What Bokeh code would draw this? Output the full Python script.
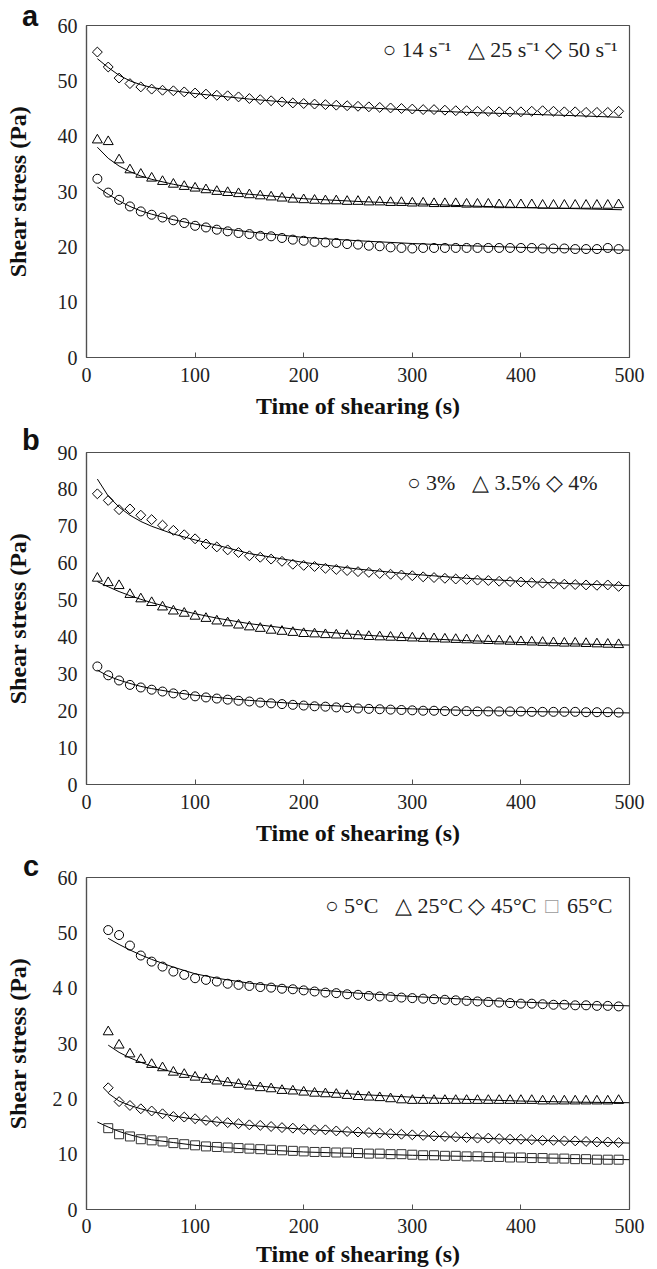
import numpy as np
from bokeh.plotting import figure
from bokeh.models import Range1d, Label, FixedTicker, Div
from bokeh.layouts import column, row
from bokeh.embed import file_html
from bokeh.resources import INLINE

# ---------------- data ----------------
time_ab = [10, 20, 30, 40, 50, 60, 70, 80, 90, 100, 110, 120, 130, 140, 150, 160, 170, 180, 190, 200,
           210, 220, 230, 240, 250, 260, 270, 280, 290, 300, 310, 320, 330, 340, 350, 360, 370, 380, 390, 400,
           410, 420, 430, 440, 450, 460, 470, 480, 490]
time_c = [20, 30, 40, 50, 60, 70, 80, 90, 100, 110, 120, 130, 140, 150, 160, 170, 180, 190, 200,
          210, 220, 230, 240, 250, 260, 270, 280, 290, 300, 310, 320, 330, 340, 350, 360, 370, 380, 390, 400,
          410, 420, 430, 440, 450, 460, 470, 480, 490]
fit_t_ab = [10, 20, 30, 40, 50, 60, 80, 100, 120, 150, 200, 250, 300, 350, 400, 450, 500]
fit_t_a2 = [10, 20, 30, 40, 50, 60, 80, 100, 120, 150, 200, 250, 300, 350, 400, 450, 493]
fit_t_c = [20, 30, 40, 50, 60, 80, 100, 120, 150, 200, 250, 300, 350, 400, 450, 500]
fit_t_c65 = [10, 20, 30, 40, 50, 60, 80, 100, 120, 150, 200, 250, 300, 350, 400, 450, 500]

# panel a: shear rates
a_14 = [32.3, 29.8, 28.5, 27.3, 26.4, 25.8, 25.3, 24.8, 24.3, 23.8, 23.5, 23.1, 22.8, 22.5, 22.3, 22.0, 21.9,
        21.6, 21.3, 21.1, 20.9, 20.8, 20.7, 20.5, 20.4, 20.2, 20.1, 19.9, 19.8, 19.7, 19.8, 19.8, 19.8, 19.8,
        19.8, 19.8, 19.8, 19.8, 19.8, 19.8, 19.8, 19.7, 19.7, 19.7, 19.6, 19.6, 19.6, 19.8, 19.6]
a_25 = [39.3, 39.0, 35.7, 33.9, 33.1, 32.4, 31.8, 31.3, 30.9, 30.6, 30.3, 30.0, 29.8, 29.6, 29.4, 29.2, 29.0,
        28.8, 28.6, 28.5, 28.4, 28.3, 28.3, 28.2, 28.2, 28.1, 28.1, 28.0, 28.0, 27.9, 27.9, 27.8, 27.8, 27.8,
        27.7, 27.7, 27.7, 27.6, 27.6, 27.6, 27.6, 27.5, 27.5, 27.5, 27.5, 27.5, 27.5, 27.5, 27.6]
a_50 = [55.2, 52.5, 50.5, 49.5, 48.9, 48.5, 48.3, 48.2, 48.0, 47.8, 47.6, 47.4, 47.3, 47.1, 46.8, 46.6, 46.4,
        46.2, 46.0, 45.9, 45.8, 45.7, 45.6, 45.5, 45.4, 45.3, 45.2, 45.1, 45.0, 44.9, 44.8, 44.8, 44.7, 44.6,
        44.6, 44.5, 44.5, 44.4, 44.4, 44.4, 44.5, 44.6, 44.5, 44.4, 44.4, 44.3, 44.3, 44.3, 44.5]
a_14_fit = [30.8, 29.5, 28.3, 27.3, 26.5, 25.9, 24.9, 24.1, 23.4, 22.7, 21.7, 21.1, 20.6, 20.2, 19.9, 19.6, 19.4]
a_25_fit = [38.0, 36.0, 34.6, 33.6, 32.8, 32.2, 31.3, 30.6, 30.1, 29.5, 28.7, 28.2, 27.8, 27.4, 27.1, 26.9, 26.7]
a_50_fit = [54.0, 52.4, 51.0, 50.0, 49.3, 48.8, 48.2, 47.7, 47.3, 46.7, 45.9, 45.2, 44.7, 44.3, 44.0, 43.7, 43.4]
a_legend = "\u25cb 14 s\u207b\u00b9\u00a0\u00a0 \u25b3 25 s\u207b\u00b9 \u25c7 50 s\u207b\u00b9"

# panel b: concentrations
b_3 = [32.0, 29.6, 28.2, 27.0, 26.3, 25.7, 25.2, 24.7, 24.3, 23.9, 23.6, 23.3, 23.0, 22.7, 22.5, 22.2, 22.0,
       21.8, 21.6, 21.4, 21.2, 21.1, 20.9, 20.8, 20.6, 20.5, 20.4, 20.3, 20.2, 20.1, 20.0, 20.0, 19.9, 19.9,
       19.9, 19.8, 19.8, 19.8, 19.8, 19.8, 19.7, 19.7, 19.7, 19.7, 19.7, 19.6, 19.6, 19.6, 19.5]
b_35 = [55.9, 54.7, 53.9, 51.5, 50.3, 49.3, 48.1, 47.0, 46.4, 45.6, 45.0, 44.3, 43.8, 43.2, 42.7, 42.3, 41.8,
        41.5, 41.2, 40.9, 40.8, 40.6, 40.5, 40.4, 40.3, 40.1, 40.0, 39.9, 39.8, 39.7, 39.6, 39.5, 39.4, 39.3,
        39.2, 39.1, 39.0, 38.9, 38.8, 38.7, 38.6, 38.5, 38.4, 38.3, 38.3, 38.2, 38.1, 38.0, 37.9]
b_4 = [78.8, 77.0, 74.5, 74.7, 73.0, 71.8, 70.3, 68.9, 67.7, 66.6, 65.2, 64.4, 63.6, 62.9, 62.0, 61.6, 61.1,
       60.5, 59.7, 59.4, 59.1, 58.6, 58.3, 58.0, 57.7, 57.5, 57.2, 57.0, 56.8, 56.6, 56.3, 56.1, 55.9, 55.7,
       55.6, 55.4, 55.3, 55.1, 55.0, 54.9, 54.7, 54.6, 54.4, 54.3, 54.2, 54.1, 54.0, 54.1, 53.7]
b_3_fit = [31.0, 29.4, 28.3, 27.4, 26.6, 26.0, 25.0, 24.2, 23.6, 22.8, 21.8, 21.0, 20.5, 20.1, 19.8, 19.6, 19.4]
b_35_fit = [55.0, 53.6, 52.3, 51.2, 50.2, 49.3, 47.7, 46.3, 45.1, 43.6, 41.8, 40.6, 39.7, 39.0, 38.5, 38.1, 37.8]
b_4_fit = [82.8, 78.2, 75.2, 73.0, 71.3, 70.0, 67.9, 66.3, 64.9, 62.6, 60.2, 58.4, 57.0, 55.9, 55.1, 54.4, 53.9]
b_legend = "\u25cb 3%\u00a0\u00a0 \u25b3 3.5% \u25c7 4%"

# panel c: temperatures
c_5 = [50.5, 49.6, 47.7, 45.9, 44.8, 43.9, 43.0, 42.4, 41.8, 41.5, 41.2, 40.8, 40.6, 40.4, 40.2, 40.1, 39.9,
       39.8, 39.6, 39.4, 39.2, 39.1, 38.9, 38.8, 38.6, 38.5, 38.4, 38.3, 38.2, 38.1, 38.0, 37.9, 37.8, 37.7,
       37.6, 37.5, 37.4, 37.3, 37.2, 37.2, 37.1, 37.0, 37.0, 36.9, 36.9, 36.8, 36.8, 36.7]
c_25 = [32.1, 29.7, 28.1, 27.1, 26.2, 25.6, 24.8, 24.4, 23.9, 23.5, 23.2, 22.9, 22.6, 22.3, 22.0, 21.8, 21.5,
        21.4, 21.2, 21.0, 20.9, 20.8, 20.6, 20.4, 20.3, 20.2, 20.0, 19.8, 19.7, 19.7, 19.7, 19.7, 19.7, 19.7,
        19.7, 19.7, 19.7, 19.7, 19.7, 19.7, 19.6, 19.6, 19.6, 19.6, 19.6, 19.6, 19.6, 19.7]
c_45 = [22.0, 19.5, 18.8, 18.2, 17.8, 17.3, 16.8, 16.7, 16.4, 16.1, 15.9, 15.7, 15.5, 15.3, 15.2, 15.0, 14.8,
        14.7, 14.5, 14.4, 14.4, 14.2, 14.1, 14.0, 13.9, 13.8, 13.7, 13.6, 13.5, 13.4, 13.3, 13.2, 13.1, 13.0,
        12.9, 12.9, 12.8, 12.7, 12.7, 12.6, 12.5, 12.5, 12.4, 12.4, 12.3, 12.2, 12.2, 12.1]
c_65 = [14.7, 13.6, 13.2, 12.7, 12.5, 12.3, 12.0, 11.8, 11.6, 11.4, 11.3, 11.2, 11.1, 11.0, 10.9, 10.8, 10.7,
        10.6, 10.5, 10.4, 10.4, 10.3, 10.3, 10.2, 10.1, 10.1, 10.0, 10.0, 9.9, 9.8, 9.8, 9.7, 9.7, 9.6,
        9.6, 9.5, 9.5, 9.4, 9.4, 9.3, 9.3, 9.2, 9.2, 9.1, 9.1, 9.0, 9.0, 9.0]
c_5_fit = [49.0, 47.9, 46.9, 46.0, 45.2, 43.8, 42.6, 41.8, 40.9, 39.9, 39.1, 38.5, 38.0, 37.5, 37.1, 36.8]
c_25_fit = [29.7, 28.4, 27.4, 26.6, 25.9, 24.8, 24.0, 23.3, 22.5, 21.5, 20.8, 20.3, 19.9, 19.6, 19.4, 19.3]
c_45_fit = [21.0, 19.6, 18.8, 18.2, 17.7, 16.9, 16.3, 15.8, 15.2, 14.5, 13.9, 13.4, 13.0, 12.6, 12.3, 12.0]
c_65_fit = [15.8, 14.9, 14.1, 13.5, 13.0, 12.6, 12.1, 11.6, 11.3, 10.9, 10.4, 10.1, 9.8, 9.6, 9.4, 9.2, 9.0]
c_legend = "\u25cb 5\u00b0C\u00a0\u00a0 \u25b3 25\u00b0C \u25c7 45\u00b0C"
c_legend_last = "\u25a1"
c_legend_last_label = "65\u00b0C"

x_ticks = [0, 100, 200, 300, 400, 500]

# ---------------- styling ----------------
SERIF = "Liberation Serif"
FRAME = "#505050"
FIG_W = 657

MARKERS = {
    "circle": dict(marker="circle", size=9, angle=0.0),
    "triangle": dict(marker="triangle", size=10, angle=0.0),
    "diamond": dict(marker="square", size=7, angle=np.pi / 4),
    "square": dict(marker="square", size=9, angle=0.0),
}


def make_panel(ymax, series, legend_parts, legend_pos, top, bottom,
               ylab_standoff=24, x_std=(10, 8), overrides=None):
    p = figure(frame_width=543, frame_height=332,
               output_backend="svg", toolbar_location=None,
               x_range=Range1d(0, 500), y_range=Range1d(0, ymax),
               min_border_left=86, min_border_right=FIG_W - 86 - 543, min_border_top=top,
               min_border_bottom=bottom)
    p.grid.visible = False
    p.outline_line_color = FRAME
    p.outline_line_width = 1.2
    p.background_fill_color = "white"
    p.border_fill_color = None

    p.xaxis.ticker = FixedTicker(ticks=x_ticks)
    p.yaxis.ticker = FixedTicker(ticks=list(range(0, ymax + 1, 10)))
    for ax in (p.xaxis[0], p.yaxis[0]):
        ax.axis_line_color = FRAME
        ax.axis_line_width = 1.2
        ax.major_tick_line_color = FRAME
        ax.minor_tick_line_color = None
        ax.major_label_text_font = SERIF
        ax.major_label_text_font_size = "20px"
        ax.major_label_text_color = "#222222"
        ax.axis_label_text_font = SERIF
        ax.axis_label_text_font_style = "bold"
        ax.axis_label_text_font_size = "24px"
        ax.axis_label_text_color = "#111111"
    p.xaxis.major_tick_in = 5
    p.xaxis.major_tick_out = 0
    p.yaxis.major_tick_in = 0
    p.yaxis.major_tick_out = 0
    p.xaxis.major_label_standoff = x_std[0]
    p.yaxis.major_label_standoff = 9
    p.xaxis.axis_label = "Time of shearing (s)"
    p.yaxis.axis_label = "Shear stress (Pa)"
    p.xaxis.axis_label_standoff = x_std[1]
    p.yaxis.axis_label_standoff = ylab_standoff
    if overrides:
        p.yaxis.major_label_overrides = overrides

    for (tx, ty, ftx, fty, mk, mcolor) in series:
        p.line(ftx, fty, line_color="black", line_width=1)
        m = MARKERS[mk]
        p.scatter(tx, ty, marker=m["marker"], size=m["size"], angle=m["angle"],
                  fill_color=None, line_color=mcolor, line_width=1)

    # legend written as text, as in the original figure (right-aligned pieces)
    x_right, y_mid = legend_pos
    text, extra = legend_parts
    offset = 0
    if extra is not None:
        sym, lab = extra
        p.add_layout(Label(x=x_right, y=y_mid, text=lab, text_font=SERIF, text_font_size="22px",
                           text_color="#222222", text_align="right", text_baseline="middle"))
        p.add_layout(Label(x=x_right, y=y_mid, x_offset=-54, text=sym, text_font=SERIF,
                           text_font_size="22px", text_color="#9a9a9a",
                           text_align="right", text_baseline="middle"))
        offset = -76
    p.add_layout(Label(x=x_right, y=y_mid, x_offset=offset, text=text,
                       text_font=SERIF, text_font_size="22px", text_color="#222222",
                       text_align="right", text_baseline="middle"))
    return p


def with_letter(p, letter, top_px, left_px):
    # panel letter placed over the figure's top-left corner
    html = ('<div style="position:relative; left:%dpx; top:%dpx; width:0px; white-space:nowrap; '
            'font-family:\'Liberation Sans\', Arial, sans-serif; font-weight:bold; '
            'font-size:29px; line-height:29px; color:#111;">%s</div>'
            % (left_px - FIG_W, top_px, letter))
    d = Div(text=html, width=0, height=0,
            styles={"overflow": "visible", "z-index": "10", "position": "relative"})
    return row(p, d, spacing=0)


pa = make_panel(60,
                [(time_ab, a_14, fit_t_ab, a_14_fit, "circle", "black"),
                 (time_ab, a_25, fit_t_a2, a_25_fit, "triangle", "black"),
                 (time_ab, a_50, fit_t_a2, a_50_fit, "diamond", "black")],
                (a_legend, None), (489, 55.65), 25, 78)
pb = make_panel(90,
                [(time_ab, b_3, fit_t_ab, b_3_fit, "circle", "black"),
                 (time_ab, b_35, fit_t_ab, b_35_fit, "triangle", "black"),
                 (time_ab, b_4, fit_t_ab, b_4_fit, "diamond", "black")],
                (b_legend, None), (470.6, 81.9), 17, 76)
pc = make_panel(60,
                [(time_c, c_5, fit_t_c, c_5_fit, "circle", "black"),
                 (time_c, c_25, fit_t_c, c_25_fit, "triangle", "black"),
                 (time_c, c_45, fit_t_c, c_45_fit, "diamond", "black"),
                 (time_c, c_65, fit_t_c65, c_65_fit, "square", "#333333")],
                (c_legend, (c_legend_last, c_legend_last_label)), (484.3, 54.95), 17, 58,
                ylab_standoff=19, x_std=(9, 5), overrides={40: "4 0", 20: "2 0"})

layout = column(with_letter(pa, "a", -3, 17), with_letter(pb, "b", -14, 17),
                with_letter(pc, "c", -13, 18), spacing=0)
open("out.html", "w").write(file_html(layout, INLINE))
